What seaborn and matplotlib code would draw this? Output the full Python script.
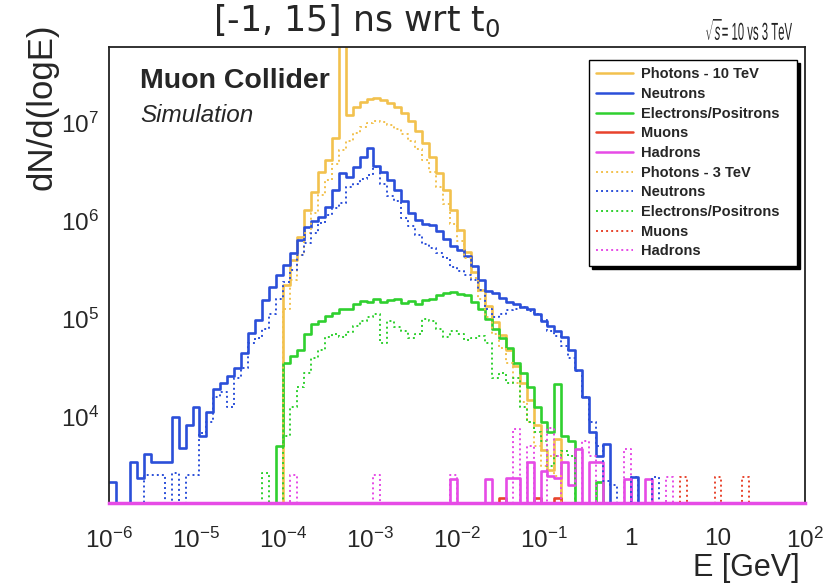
import numpy as np
import matplotlib
matplotlib.use("Agg")
import matplotlib.pyplot as plt
from matplotlib.lines import Line2D
from matplotlib.ticker import LogLocator, FixedLocator, FixedFormatter, NullFormatter
from matplotlib.textpath import TextPath
from matplotlib.patches import PathPatch
from matplotlib.font_manager import FontProperties
from matplotlib.transforms import Affine2D, IdentityTransform
import seaborn as sns

sns.set_style("white")
plt.rcParams["font.family"] = ["Liberation Sans", "DejaVu Sans"]
plt.rcParams["mathtext.fontset"] = "custom"
plt.rcParams["mathtext.rm"] = "Liberation Sans"
plt.rcParams["mathtext.it"] = "Liberation Sans:italic"

# 100 log bins from 1e-6 to 1e2 GeV
edges = np.logspace(-6, 2, 101)
y_floor = 1.32e3

# log10(dN/dlogE) per bin; 0 = empty bin
# dense series: values start at bin *_first
photons10_first = 25
photons10 = [5.35, 5.6, 5.84, 6.11, 6.3, 6.5, 6.62, 6.85, 8.2, 7.08,
             7.16, 7.21, 7.245, 7.255, 7.235, 7.2, 7.16, 7.1, 7.02, 6.92,
             6.8, 6.65, 6.49, 6.32, 6.11, 5.91, 5.68, 5.48, 5.3, 5.13,
             4.97, 4.84, 4.68, 4.52, 4.35, 4.17, 3.92, 3.66, 3.46, 3.77]

photons3_first = 25
photons3 = [5.1, 5.4, 5.65, 5.88, 6.08, 6.27, 6.42, 6.58, 6.72, 6.82,
            6.9, 6.96, 7.0, 7.02, 7.01, 6.98, 6.94, 6.89, 6.82, 6.73,
            6.62, 6.5, 6.35, 6.17, 5.97, 5.8, 5.62, 5.42, 5.2, 5.02,
            4.85, 4.7, 4.55, 4.35, 4.15, 3.95, 3.7, 3.5, 3.6, 3.4]

neutrons10_first = 0
neutrons10 = [3.33, 0, 0, 3.54, 3.38, 3.62, 3.54, 3.54, 3.54, 4.0,
              3.68, 3.92, 4.1, 3.8, 4.05, 4.28, 4.35, 4.42, 4.5, 4.65,
              4.86, 4.99, 5.19, 5.33, 5.45, 5.55, 5.67, 5.81, 5.94, 6.0,
              6.04, 6.14, 6.32, 6.49, 6.45, 6.55, 6.65, 6.74, 6.56, 6.5,
              6.42, 6.32, 6.2, 6.08, 6.01, 5.97, 5.96, 5.9, 5.82, 5.74,
              5.7, 5.64, 5.54, 5.4, 5.28, 5.26, 5.21, 5.17, 5.15, 5.12,
              5.1, 5.05, 4.98, 4.93, 4.88, 4.82, 4.68, 4.48, 4.2, 3.85,
              3.6, 3.72, 0, 0, 0, 3.39]

neutrons3_first = 0
neutrons3 = [0, 0, 0, 0, 0, 3.41, 3.41, 3.41, 0, 3.43,
             0, 3.41, 3.41, 3.84, 3.95, 4.2, 4.25, 4.1, 4.4, 4.5,
             4.75, 4.8, 4.9, 5.05, 5.2, 5.38, 5.5, 5.65, 5.78, 5.88,
             5.98, 6.06, 6.13, 6.18, 6.35, 6.38, 6.43, 6.47, 6.55, 6.38,
             6.25, 6.2, 6.03, 5.95, 5.86, 5.76, 5.72, 5.67, 5.62, 5.53,
             5.49, 5.45, 5.4, 5.3, 5.1, 5.02, 5.05, 5.09, 5.1, 5.12,
             5.08, 5.05, 4.99, 4.88, 4.83, 4.72, 4.6, 4.47, 4.2, 3.95,
             3.7, 3.35, 3.3, 0, 0, 3.39, 0, 0, 3.39]

electrons10_first = 24
electrons10 = [3.7, 4.55, 4.62, 4.68, 4.85, 4.95, 4.98, 5.03, 5.06, 5.1,
               5.1, 5.15, 5.18, 5.17, 5.2, 5.17, 5.19, 5.2, 5.16, 5.18,
               5.15, 5.19, 5.2, 5.24, 5.26, 5.27, 5.25, 5.24, 5.17, 5.1,
               5.0, 4.9, 4.8, 4.7, 4.55, 4.45, 4.3, 4.1, 3.95, 3.85,
               4.34, 3.8, 3.75, 0, 0, 0, 3.34]

electrons3_first = 22
electrons3 = [3.43, 0, 0, 3.8, 4.1, 4.3, 4.45, 4.6, 4.68, 4.82,
              4.85, 4.82, 4.87, 4.93, 4.98, 5.02, 5.05, 4.75, 4.98, 4.92,
              4.88, 4.8, 4.85, 5.0, 4.98, 4.9, 4.82, 4.88, 4.85, 4.78,
              4.8, 4.83, 4.75, 4.4, 4.45, 4.35, 4.4, 4.1, 3.95, 3.85,
              3.75, 3.5, 3.6, 3.65, 3.6]

# sparse series: bin numbers and values
muons10_bins = [56, 61, 64]
muons10 = [3.17, 3.17, 3.17]
muons3_bins = [82, 87, 91]
muons3 = [3.39, 3.39, 3.39]
hadrons10_bins = [49, 54, 57, 58, 60, 62, 63, 64, 65, 66, 67, 69, 70, 74, 77]
hadrons10 = [3.37, 3.37, 3.38, 3.38, 3.54, 3.45, 3.4, 3.38, 3.54, 3.3,
             3.67, 3.54, 3.54, 3.37, 3.37]
hadrons3_bins = [26, 38, 49, 58, 60, 63, 64, 68, 69, 74, 80]
hadrons3 = [3.41, 3.41, 3.41, 3.88, 3.7, 3.89, 3.6, 3.75, 3.6, 3.67, 3.39]

labels = ["Photons - 10 TeV", "Neutrons", "Electrons/Positrons", "Muons", "Hadrons",
          "Photons - 3 TeV", "Neutrons", "Electrons/Positrons", "Muons", "Hadrons"]
colors = ["#f2c14e", "#2b4fd9", "#2fd02f", "#e8432c", "#e64be6"]


def dense(first, vals):
    arr = np.zeros(len(edges) - 1)
    arr[first:first + len(vals)] = vals
    return arr


def sparse(bins, vals):
    arr = np.zeros(len(edges) - 1)
    arr[bins] = vals
    return arr


def counts(log_vals):
    return np.where(log_vals > 0, 10.0 ** log_vals, y_floor)


series10 = [dense(photons10_first, photons10), dense(neutrons10_first, neutrons10),
            dense(electrons10_first, electrons10), sparse(muons10_bins, muons10),
            sparse(hadrons10_bins, hadrons10)]
series3 = [dense(photons3_first, photons3), dense(neutrons3_first, neutrons3),
           dense(electrons3_first, electrons3), sparse(muons3_bins, muons3),
           sparse(hadrons3_bins, hadrons3)]

W, H = 829, 584
fig = plt.figure(figsize=(W / 100, H / 100), dpi=100)
ax = fig.add_axes([109 / W, 1 - 503 / H, (805 - 109) / W, (503 - 47) / H])
ax.set_xscale("log")
ax.set_yscale("log")

dot = (0, (1, 1.6))
for vals, c in zip(series10, colors):
    y = counts(vals)
    sns.lineplot(x=edges, y=np.append(y, y[-1]), drawstyle="steps-post", estimator=None,
                 sort=False, color=c, linewidth=1.9, ax=ax, legend=False)
for vals, c in zip(series3, colors):
    y = counts(vals)
    sns.lineplot(x=edges, y=np.append(y, y[-1]), drawstyle="steps-post", estimator=None,
                 sort=False, color=c, linewidth=1.4, linestyle=dot, ax=ax, legend=False)

ax.set_xlim(1e-6, 1e2)
ax.set_ylim(y_floor, 5.97e7)
ax.set_xlabel("")
ax.set_ylabel("")

xt = [1e-6, 1e-5, 1e-4, 1e-3, 1e-2, 1e-1, 1, 10, 100]
xl = [r"$10^{-6}$", r"$10^{-5}$", r"$10^{-4}$", r"$10^{-3}$", r"$10^{-2}$",
      r"$10^{-1}$", "1", "10", r"$10^{2}$"]
ax.xaxis.set_major_locator(FixedLocator(xt))
ax.xaxis.set_major_formatter(FixedFormatter(xl))
ax.xaxis.set_minor_locator(LogLocator(base=10, subs=range(2, 10), numticks=20))
ax.xaxis.set_minor_formatter(NullFormatter())
yt = [1e4, 1e5, 1e6, 1e7]
ax.yaxis.set_major_locator(FixedLocator(yt))
ax.yaxis.set_major_formatter(FixedFormatter([r"$10^{4}$", r"$10^{5}$", r"$10^{6}$", r"$10^{7}$"]))
ax.yaxis.set_minor_locator(LogLocator(base=10, subs=range(2, 10), numticks=20))
ax.yaxis.set_minor_formatter(NullFormatter())
ax.tick_params(which="both", direction="in", top=False, right=False, color="#222222",
               labelsize=17.5)
ax.tick_params(which="major", length=12, width=1.0)
ax.tick_params(which="minor", length=6.5, width=0.9)
ax.tick_params(axis="x", pad=18)
ax.tick_params(axis="y", pad=7)
for s in ax.spines.values():
    s.set_color("#222222")
    s.set_linewidth(1.3)
ax.spines["bottom"].set_color(colors[4])
ax.spines["bottom"].set_linewidth(2.5)

handles = [Line2D([], [], color=c, lw=1.8) for c in colors] + \
          [Line2D([], [], color=c, lw=1.4, linestyle=dot) for c in colors]
leg = ax.legend(handles, labels, loc="upper left", mode="expand",
                bbox_to_anchor=(589 / W, 1 - 264 / H, 208 / W, 204 / H),
                bbox_transform=fig.transFigure, frameon=True, fancybox=False,
                shadow={"facecolor": "black", "edgecolor": "black", "alpha": 1.0},
                prop={"size": 10.5, "weight": "bold"}, handlelength=2.5,
                handletextpad=0.6, labelspacing=0.39, borderpad=0.5, borderaxespad=0)
leg.get_frame().set_edgecolor("black")
leg.get_frame().set_linewidth(1.0)

fig.text(140 / W, 1 - 88 / H, "Muon Collider", fontsize=20.5, fontweight="bold",
         va="baseline")
fig.text(140 / W, 1 - 122 / H, "Simulation", fontsize=17.5, fontstyle="italic",
         va="baseline")
fig.text(357 / W, 1 - 31 / H, r"[-1, 15] ns wrt t$_0$", fontsize=25, ha="center",
         va="baseline", family="DejaVu Sans", math_fontfamily="dejavusans")
fig.text(42 / W, 1 - 107 / H, "dN/d(logE)", fontsize=25, rotation=90,
         ha="center", va="center")
fig.text(800 / W, 1 - 576 / H, "E [GeV]", fontsize=22, ha="right", va="baseline")

# condensed energy label, squeezed to the width it has in the picture
tp = TextPath((0, 0), r"$\sqrt{s}$= 10 vs 3 TeV", size=27,
              prop=FontProperties(family="Liberation Sans"))
ext = tp.get_extents()
sx = 86 / ext.width
sy = 21 / ext.height
tr = Affine2D().translate(-ext.x0, -ext.y0).scale(sx, sy).translate(706, H - 40)
fig.patches.append(PathPatch(tr.transform_path(tp), transform=IdentityTransform(),
                             facecolor="#222222", edgecolor="none", figure=fig))

fig.savefig("out.png", dpi=100)
